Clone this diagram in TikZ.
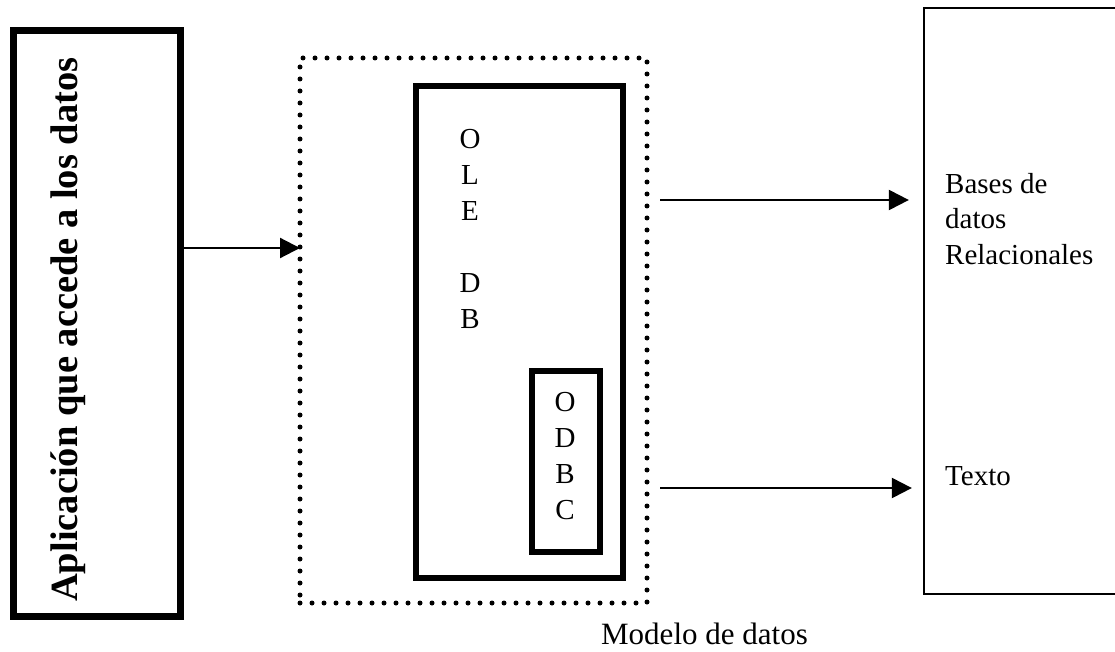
\documentclass[tikz,border=0pt]{standalone}
\usepackage{fontspec}
\setmainfont{Liberation Serif}
\usetikzlibrary{arrows.meta, positioning, calc}

\begin{document}
\begin{tikzpicture}[x=1pt, y=-1pt,
  caja/.style={draw, rectangle, inner sep=0pt, line width=#1},
  puntos/.style={draw, rectangle, inner sep=0pt, outer sep=0pt, line width=5pt,
    line cap=round, dash pattern=on 0pt off 12pt},
  letras/.style={font=\fontsize{29}{36}\selectfont, align=center, inner sep=0pt},
  texto/.style={font=\fontsize{29}{35.5}\selectfont, inner sep=0pt},
  flecha/.style={-{Triangle[length=20pt, width=20pt]}, line width=2.2pt}]
  \useasboundingbox (0,0) rectangle (1115,652);
  % cajas
  \node[caja=7pt, minimum width=167pt, minimum height=585pt] (app) at (96.5,323.5) {};
  \node[rotate=90, anchor=base west, inner sep=0pt, font=\fontsize{38.5}{44}\selectfont\bfseries] (apptxt) at (77,602) {Aplicación que accede a los datos};
  \node[puntos, minimum width=347pt, minimum height=545pt] (modelo) at (473.5,330.5) {};
  \node[caja=6pt, minimum width=207pt, minimum height=492pt] (oledb) at (519.5,332) {};
  \node[caja=5.5pt, minimum width=68pt, minimum height=181pt] (odbc) at (566,461.5) {};
  \node[caja=2.3pt, minimum width=216pt, minimum height=586pt] (fuentes) at (1032,301) {};
  % textos
  \node[letras, anchor=north] (oletxt) at (470,129) {O\\L\\E\\[36pt]D\\B};
  \node[letras, anchor=north] (odbctxt) at (565,392) {O\\D\\B\\C};
  \node[texto, anchor=north west, align=left] (bases) at (945,173) {Bases de\\datos\\Relacionales};
  \node[texto, anchor=base west] (txt) at (945,485) {Texto};
  \node[font=\fontsize{31}{36}\selectfont, anchor=base east, inner sep=0pt] (modelotxt) at (808,644) {Modelo de datos};
  % flechas
  \draw[flecha] ([yshift=75.5pt]app.east) -- ([yshift=75.5pt]app.east -| modelo.west);
  \draw[flecha, shorten <=13pt, shorten >=14pt] ([yshift=130.5pt]modelo.east) -- ([yshift=130.5pt]modelo.east -| fuentes.west);
  \draw[flecha, shorten <=13pt, shorten >=11pt] ([yshift=-157.5pt]modelo.east) -- ([yshift=-157.5pt]modelo.east -| fuentes.west);
\end{tikzpicture}
\end{document}
